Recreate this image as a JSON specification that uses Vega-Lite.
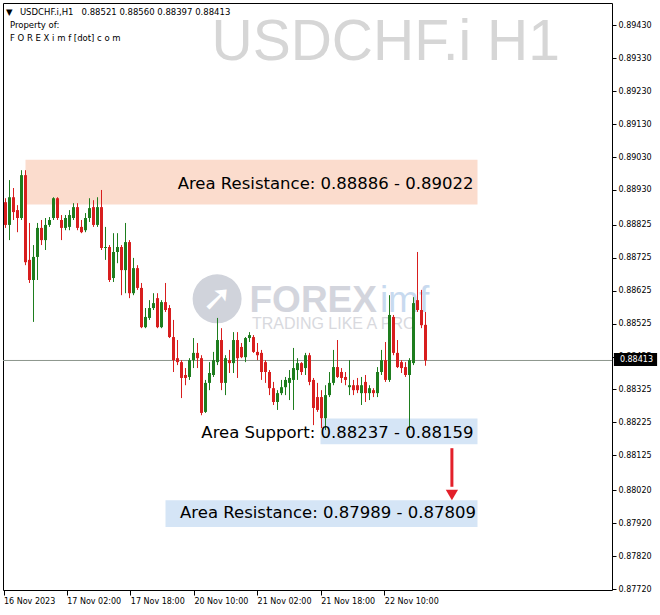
{
"$schema": "https://vega.github.io/schema/vega-lite/v6.json",
"width": 609,
"height": 587,
"autosize": {"type": "none"},
"padding": {"left": 3, "top": 3, "right": 48, "bottom": 25},
"background": "#ffffff",
"config": {"view": {"stroke": "#000000", "strokeWidth": 1}, "scale": {"continuousPadding": 0}},
"datasets": {
"bars": [
{"i":0,"o":0.88893,"h":0.88905,"l":0.88815,"c":0.88824},
{"i":1,"o":0.88824,"h":0.88960,"l":0.88778,"c":0.88908},
{"i":2,"o":0.88908,"h":0.88936,"l":0.88839,"c":0.88863},
{"i":3,"o":0.88869,"h":0.88884,"l":0.88802,"c":0.88845},
{"i":4,"o":0.88845,"h":0.88990,"l":0.88839,"c":0.88975},
{"i":5,"o":0.88975,"h":0.88990,"l":0.88702,"c":0.88711},
{"i":6,"o":0.88718,"h":0.88830,"l":0.88648,"c":0.88657},
{"i":7,"o":0.88657,"h":0.88763,"l":0.88530,"c":0.88727},
{"i":8,"o":0.88727,"h":0.88830,"l":0.88657,"c":0.88815},
{"i":9,"o":0.88815,"h":0.88839,"l":0.88763,"c":0.88778},
{"i":10,"o":0.88778,"h":0.88845,"l":0.88748,"c":0.88824},
{"i":11,"o":0.88824,"h":0.88848,"l":0.88818,"c":0.88839},
{"i":12,"o":0.88845,"h":0.88908,"l":0.88839,"c":0.88905},
{"i":13,"o":0.88905,"h":0.88908,"l":0.88839,"c":0.88845},
{"i":14,"o":0.88839,"h":0.88854,"l":0.88778,"c":0.88815},
{"i":15,"o":0.88815,"h":0.88854,"l":0.88808,"c":0.88845},
{"i":16,"o":0.88818,"h":0.88869,"l":0.88808,"c":0.88854},
{"i":17,"o":0.88845,"h":0.88890,"l":0.88839,"c":0.88878},
{"i":18,"o":0.88878,"h":0.88890,"l":0.88808,"c":0.88815},
{"i":19,"o":0.88818,"h":0.88839,"l":0.88799,"c":0.88802},
{"i":20,"o":0.88808,"h":0.88860,"l":0.88802,"c":0.88845},
{"i":21,"o":0.88845,"h":0.88905,"l":0.88833,"c":0.88875},
{"i":22,"o":0.88878,"h":0.88899,"l":0.88818,"c":0.88824},
{"i":23,"o":0.88824,"h":0.88908,"l":0.88818,"c":0.88878},
{"i":24,"o":0.88878,"h":0.88930,"l":0.88748,"c":0.88754},
{"i":25,"o":0.88754,"h":0.88818,"l":0.88718,"c":0.88757},
{"i":26,"o":0.88757,"h":0.88763,"l":0.88651,"c":0.88657},
{"i":27,"o":0.88663,"h":0.88799,"l":0.88651,"c":0.88742},
{"i":28,"o":0.88742,"h":0.88799,"l":0.88708,"c":0.88757},
{"i":29,"o":0.88757,"h":0.88763,"l":0.88611,"c":0.88687},
{"i":30,"o":0.88687,"h":0.88830,"l":0.88617,"c":0.88772},
{"i":31,"o":0.88772,"h":0.88778,"l":0.88602,"c":0.88617},
{"i":32,"o":0.88617,"h":0.88724,"l":0.88611,"c":0.88693},
{"i":33,"o":0.88693,"h":0.88702,"l":0.88627,"c":0.88633},
{"i":34,"o":0.88633,"h":0.88648,"l":0.88511,"c":0.88514},
{"i":35,"o":0.88514,"h":0.88572,"l":0.88511,"c":0.88545},
{"i":36,"o":0.88542,"h":0.88596,"l":0.88536,"c":0.88572},
{"i":37,"o":0.88572,"h":0.88617,"l":0.88566,"c":0.88587},
{"i":38,"o":0.88602,"h":0.88617,"l":0.88511,"c":0.88514},
{"i":39,"o":0.88514,"h":0.88596,"l":0.88511,"c":0.88590},
{"i":40,"o":0.88590,"h":0.88648,"l":0.88560,"c":0.88566},
{"i":41,"o":0.88572,"h":0.88581,"l":0.88481,"c":0.88484},
{"i":42,"o":0.88484,"h":0.88536,"l":0.88378,"c":0.88414},
{"i":43,"o":0.88420,"h":0.88475,"l":0.88399,"c":0.88408},
{"i":44,"o":0.88408,"h":0.88414,"l":0.88299,"c":0.88360},
{"i":45,"o":0.88369,"h":0.88390,"l":0.88338,"c":0.88360},
{"i":46,"o":0.88363,"h":0.88420,"l":0.88354,"c":0.88414},
{"i":47,"o":0.88414,"h":0.88481,"l":0.88390,"c":0.88436},
{"i":48,"o":0.88436,"h":0.88466,"l":0.88390,"c":0.88420},
{"i":49,"o":0.88420,"h":0.88429,"l":0.88247,"c":0.88254},
{"i":50,"o":0.88257,"h":0.88354,"l":0.88254,"c":0.88345},
{"i":51,"o":0.88345,"h":0.88408,"l":0.88323,"c":0.88375},
{"i":52,"o":0.88369,"h":0.88439,"l":0.88363,"c":0.88414},
{"i":53,"o":0.88408,"h":0.88542,"l":0.88399,"c":0.88475},
{"i":54,"o":0.88475,"h":0.88511,"l":0.88323,"c":0.88345},
{"i":55,"o":0.88345,"h":0.88429,"l":0.88308,"c":0.88420},
{"i":56,"o":0.88414,"h":0.88445,"l":0.88375,"c":0.88405},
{"i":57,"o":0.88405,"h":0.88499,"l":0.88375,"c":0.88475},
{"i":58,"o":0.88475,"h":0.88499,"l":0.88360,"c":0.88420},
{"i":59,"o":0.88454,"h":0.88466,"l":0.88420,"c":0.88423},
{"i":60,"o":0.88423,"h":0.88484,"l":0.88408,"c":0.88481},
{"i":61,"o":0.88481,"h":0.88499,"l":0.88469,"c":0.88490},
{"i":62,"o":0.88484,"h":0.88490,"l":0.88436,"c":0.88439},
{"i":63,"o":0.88439,"h":0.88466,"l":0.88414,"c":0.88429},
{"i":64,"o":0.88436,"h":0.88445,"l":0.88354,"c":0.88378},
{"i":65,"o":0.88408,"h":0.88414,"l":0.88345,"c":0.88378},
{"i":66,"o":0.88378,"h":0.88384,"l":0.88308,"c":0.88329},
{"i":67,"o":0.88329,"h":0.88348,"l":0.88278,"c":0.88287},
{"i":68,"o":0.88287,"h":0.88323,"l":0.88263,"c":0.88314},
{"i":69,"o":0.88314,"h":0.88354,"l":0.88308,"c":0.88332},
{"i":70,"o":0.88332,"h":0.88363,"l":0.88308,"c":0.88354},
{"i":71,"o":0.88345,"h":0.88384,"l":0.88293,"c":0.88360},
{"i":72,"o":0.88354,"h":0.88451,"l":0.88263,"c":0.88390},
{"i":73,"o":0.88384,"h":0.88420,"l":0.88354,"c":0.88405},
{"i":74,"o":0.88405,"h":0.88408,"l":0.88369,"c":0.88378},
{"i":75,"o":0.88390,"h":0.88436,"l":0.88369,"c":0.88429},
{"i":76,"o":0.88429,"h":0.88436,"l":0.88338,"c":0.88348},
{"i":77,"o":0.88354,"h":0.88360,"l":0.88217,"c":0.88269},
{"i":78,"o":0.88302,"h":0.88345,"l":0.88257,"c":0.88263},
{"i":79,"o":0.88302,"h":0.88323,"l":0.88208,"c":0.88238},
{"i":80,"o":0.88238,"h":0.88338,"l":0.88202,"c":0.88308},
{"i":81,"o":0.88308,"h":0.88378,"l":0.88302,"c":0.88345},
{"i":82,"o":0.88345,"h":0.88445,"l":0.88338,"c":0.88393},
{"i":83,"o":0.88393,"h":0.88475,"l":0.88360,"c":0.88363},
{"i":84,"o":0.88378,"h":0.88390,"l":0.88345,"c":0.88360},
{"i":85,"o":0.88363,"h":0.88378,"l":0.88338,"c":0.88354},
{"i":86,"o":0.88332,"h":0.88414,"l":0.88308,"c":0.88338},
{"i":87,"o":0.88338,"h":0.88354,"l":0.88308,"c":0.88323},
{"i":88,"o":0.88338,"h":0.88360,"l":0.88314,"c":0.88323},
{"i":89,"o":0.88314,"h":0.88363,"l":0.88278,"c":0.88338},
{"i":90,"o":0.88348,"h":0.88369,"l":0.88287,"c":0.88314},
{"i":91,"o":0.88314,"h":0.88338,"l":0.88293,"c":0.88329},
{"i":92,"o":0.88323,"h":0.88329,"l":0.88302,"c":0.88314},
{"i":93,"o":0.88314,"h":0.88393,"l":0.88302,"c":0.88378},
{"i":94,"o":0.88378,"h":0.88445,"l":0.88369,"c":0.88414},
{"i":95,"o":0.88414,"h":0.88469,"l":0.88348,"c":0.88354},
{"i":96,"o":0.88354,"h":0.88611,"l":0.88348,"c":0.88551},
{"i":97,"o":0.88545,"h":0.88551,"l":0.88429,"c":0.88436},
{"i":98,"o":0.88436,"h":0.88475,"l":0.88390,"c":0.88393},
{"i":99,"o":0.88408,"h":0.88414,"l":0.88375,"c":0.88390},
{"i":100,"o":0.88393,"h":0.88408,"l":0.88363,"c":0.88369},
{"i":101,"o":0.88369,"h":0.88420,"l":0.88202,"c":0.88414},
{"i":102,"o":0.88405,"h":0.88605,"l":0.88399,"c":0.88587},
{"i":103,"o":0.88596,"h":0.88742,"l":0.88560,"c":0.88566},
{"i":104,"o":0.88566,"h":0.88627,"l":0.88511,"c":0.88520},
{"i":105,"o":0.88521,"h":0.88560,"l":0.88397,"c":0.88413}
]
},
"layer": [
{
"data": {"values": [
{"zone": "resistance", "x1": 5, "x2": 118, "top": 0.89022, "bottom": 0.88886},
{"zone": "support", "x1": 78.75, "x2": 118, "top": 0.88237, "bottom": 0.88159},
{"zone": "target", "x1": 40, "x2": 118, "top": 0.87989, "bottom": 0.87908}
]},
"mark": {"type": "rect"},
"encoding": {
"x": {"field": "x1", "type": "quantitative", "scale": {"domain": [-0.625, 151.625], "nice": false, "zero": false, "padding": 0},
"axis": {"orient": "bottom", "title": null, "values": [-0.5, 15.3, 31.2, 47.1, 62.9, 78.8, 94.7], "tickCount": 40,
"labelExpr": "datum.value < 0 ? '16 Nov 2023' : datum.value < 20 ? '17 Nov 02:00' : datum.value < 40 ? '17 Nov 18:00' : datum.value < 55 ? '20 Nov 10:00' : datum.value < 70 ? '21 Nov 02:00' : datum.value < 85 ? '21 Nov 18:00' : '22 Nov 10:00'",
"domain": false, "grid": false, "ticks": true, "tickSize": 5, "tickColor": "#000000", "tickWidth": 1,
"labelAlign": "left", "labelBaseline": "top", "labelPadding": 2, "labelDx": 1, "labelFont": "DejaVu Sans", "labelFontSize": 8, "labelColor": "#000000",
"labelFlush": false, "labelOverlap": false, "labelBound": false}},
"x2": {"field": "x2"},
"y": {"field": "top", "type": "quantitative", "scale": {"domain": [0.87717, 0.89497], "nice": false, "zero": false, "padding": 0},
"axis": {"orient": "right", "title": null, "values": [0.8943, 0.8933, 0.8923, 0.8913, 0.8903, 0.8893, 0.88825, 0.88725, 0.88625, 0.88525, 0.88425, 0.88325, 0.88225, 0.88125, 0.8802, 0.8792, 0.8782, 0.8772], "tickCount": 40,
"format": ".5f", "domain": false, "grid": false, "ticks": true, "tickSize": 4, "tickColor": "#000000", "tickWidth": 1,
"labelFont": "DejaVu Sans", "labelFontSize": 8, "labelColor": "#000000", "labelPadding": 2, "labelOverlap": false, "labelFlush": false, "labelBound": false}},
"y2": {"field": "bottom"},
"color": {"field": "zone", "type": "nominal", "scale": {"domain": ["resistance", "support", "target"], "range": ["#fbdccd", "#d5e5f6", "#d5e5f6"]}, "legend": null}
}
},
{
"data": {"values": [{"x": 52.9, "y": 0.886}]},
"mark": {"type": "point", "shape": "circle", "filled": true, "size": 2400, "color": "#d0d3db", "opacity": 1},
"encoding": {
"x": {"field": "x", "type": "quantitative", "scale": {"domain": [-0.625, 151.625], "nice": false, "zero": false, "padding": 0}},
"y": {"field": "y", "type": "quantitative", "scale": {"domain": [0.87717, 0.89497], "nice": false, "zero": false, "padding": 0}}
}
},
{
"data": {"values": [{"x": 52.9, "y": 0.886, "t": "➚"}]},
"mark": {"type": "text", "font": "DejaVu Sans", "fontWeight": "bold", "fontSize": 36, "align": "center", "baseline": "middle", "color": "#ffffff"},
"encoding": {
"x": {"field": "x", "type": "quantitative", "scale": {"domain": [-0.625, 151.625], "nice": false, "zero": false, "padding": 0}},
"y": {"field": "y", "type": "quantitative", "scale": {"domain": [0.87717, 0.89497], "nice": false, "zero": false, "padding": 0}},
"text": {"field": "t"}
}
},
{
"data": {"values": [{"x": 61, "y": 0.8856, "t": "FOREX"}]},
"mark": {"type": "text", "font": "Liberation Sans", "fontWeight": "bold", "fontSize": 37, "align": "left", "baseline": "alphabetic", "color": "#d3d5dd"},
"encoding": {
"x": {"field": "x", "type": "quantitative", "scale": {"domain": [-0.625, 151.625], "nice": false, "zero": false, "padding": 0}},
"y": {"field": "y", "type": "quantitative", "scale": {"domain": [0.87717, 0.89497], "nice": false, "zero": false, "padding": 0}},
"text": {"field": "t"}
}
},
{
"data": {"values": [{"x": 93.6, "y": 0.8856, "t": "imf"}]},
"mark": {"type": "text", "font": "Liberation Sans", "fontSize": 37, "align": "left", "baseline": "alphabetic", "color": "#c8daef"},
"encoding": {
"x": {"field": "x", "type": "quantitative", "scale": {"domain": [-0.625, 151.625], "nice": false, "zero": false, "padding": 0}},
"y": {"field": "y", "type": "quantitative", "scale": {"domain": [0.87717, 0.89497], "nice": false, "zero": false, "padding": 0}},
"text": {"field": "t"}
}
},
{
"data": {"values": [{"x": 61.6, "y": 0.88523, "t": "TRADING LIKE A PRO"}]},
"mark": {"type": "text", "font": "Liberation Sans", "fontSize": 16, "align": "left", "baseline": "middle", "color": "#d8d9de"},
"encoding": {
"x": {"field": "x", "type": "quantitative", "scale": {"domain": [-0.625, 151.625], "nice": false, "zero": false, "padding": 0}},
"y": {"field": "y", "type": "quantitative", "scale": {"domain": [0.87717, 0.89497], "nice": false, "zero": false, "padding": 0}},
"text": {"field": "t"}
}
},
{
"data": {"values": [{"x": 138.6, "y": 0.89324, "t": "USDCHF.i H1"}]},
"mark": {"type": "text", "font": "Liberation Sans", "fontSize": 57, "align": "right", "baseline": "alphabetic", "color": "#d6d6d6"},
"encoding": {
"x": {"field": "x", "type": "quantitative", "scale": {"domain": [-0.625, 151.625], "nice": false, "zero": false, "padding": 0}},
"y": {"field": "y", "type": "quantitative", "scale": {"domain": [0.87717, 0.89497], "nice": false, "zero": false, "padding": 0}},
"text": {"field": "t"}
}
},
{
"data": {"values": [{"p": 0.88413}]},
"mark": {"type": "rule", "color": "#8c968c", "strokeWidth": 1},
"encoding": {
"y": {"field": "p", "type": "quantitative", "scale": {"domain": [0.87717, 0.89497], "nice": false, "zero": false, "padding": 0}}
}
},
{
"data": {"name": "bars"},
"mark": {"type": "rule", "strokeWidth": 1},
"encoding": {
"x": {"field": "i", "type": "quantitative", "scale": {"domain": [-0.625, 151.625], "nice": false, "zero": false, "padding": 0}},
"y": {"field": "l", "type": "quantitative", "scale": {"domain": [0.87717, 0.89497], "nice": false, "zero": false, "padding": 0}},
"y2": {"field": "h"},
"color": {"condition": {"test": "datum.c >= datum.o", "value": "#1e7d1e"}, "value": "#d81e1e"}
}
},
{
"data": {"name": "bars"},
"mark": {"type": "bar", "width": 3},
"encoding": {
"x": {"field": "i", "type": "quantitative", "scale": {"domain": [-0.625, 151.625], "nice": false, "zero": false, "padding": 0}},
"y": {"field": "o", "type": "quantitative", "scale": {"domain": [0.87717, 0.89497], "nice": false, "zero": false, "padding": 0}},
"y2": {"field": "c"},
"color": {"condition": {"test": "datum.c >= datum.o", "value": "#1e7d1e"}, "value": "#d81e1e"}
}
},
{
"data": {"values": [
{"x": 117, "y": 0.88948, "t": "Area Resistance: 0.88886 - 0.89022"},
{"x": 117, "y": 0.88193, "t": "Area Support: 0.88237 - 0.88159"},
{"x": 117.6, "y": 0.8795, "t": "Area Resistance: 0.87989 - 0.87809"}
]},
"mark": {"type": "text", "font": "DejaVu Sans", "fontSize": 16.5, "align": "right", "baseline": "middle", "color": "#000000"},
"encoding": {
"x": {"field": "x", "type": "quantitative", "scale": {"domain": [-0.625, 151.625], "nice": false, "zero": false, "padding": 0}},
"y": {"field": "y", "type": "quantitative", "scale": {"domain": [0.87717, 0.89497], "nice": false, "zero": false, "padding": 0}},
"text": {"field": "t"}
}
},
{
"data": {"values": [{"x": 111.6, "y1": 0.88147, "y2": 0.8803}]},
"mark": {"type": "rule", "color": "#e3202a", "strokeWidth": 3},
"encoding": {
"x": {"field": "x", "type": "quantitative", "scale": {"domain": [-0.625, 151.625], "nice": false, "zero": false, "padding": 0}},
"y": {"field": "y1", "type": "quantitative", "scale": {"domain": [0.87717, 0.89497], "nice": false, "zero": false, "padding": 0}},
"y2": {"field": "y2"}
}
},
{
"data": {"values": [{"x": 111.6, "y": 0.88005}]},
"mark": {"type": "point", "shape": "triangle-down", "filled": true, "size": 150, "color": "#e3202a", "opacity": 1},
"encoding": {
"x": {"field": "x", "type": "quantitative", "scale": {"domain": [-0.625, 151.625], "nice": false, "zero": false, "padding": 0}},
"y": {"field": "y", "type": "quantitative", "scale": {"domain": [0.87717, 0.89497], "nice": false, "zero": false, "padding": 0}}
}
},
{
"data": {"values": [
{"x": 0.1, "y": 0.89469, "t": "▼"},
{"x": 3.6, "y": 0.89469, "t": "USDCHF.i,H1\u00a0\u00a0\u00a00.88521 0.88560 0.88397 0.88413"},
{"x": 1.1, "y": 0.8943, "t": "Property of:"},
{"x": 1.1, "y": 0.89391, "t": "F O R E X i m f [dot] c o m"}
]},
"mark": {"type": "text", "font": "DejaVu Sans", "fontSize": 8.5, "align": "left", "baseline": "middle", "color": "#000000"},
"encoding": {
"x": {"field": "x", "type": "quantitative", "scale": {"domain": [-0.625, 151.625], "nice": false, "zero": false, "padding": 0}},
"y": {"field": "y", "type": "quantitative", "scale": {"domain": [0.87717, 0.89497], "nice": false, "zero": false, "padding": 0}},
"text": {"field": "t"}
}
},
{
"data": {"values": [{"x1": 152.1, "x2": 162.9, "top": 0.88436, "bottom": 0.88396}]},
"mark": {"type": "rect", "color": "#000000"},
"encoding": {
"x": {"field": "x1", "type": "quantitative", "scale": {"domain": [-0.625, 151.625], "nice": false, "zero": false, "padding": 0}},
"x2": {"field": "x2"},
"y": {"field": "top", "type": "quantitative", "scale": {"domain": [0.87717, 0.89497], "nice": false, "zero": false, "padding": 0}},
"y2": {"field": "bottom"}
}
},
{
"data": {"values": [{"x": 153.6, "y": 0.88413, "t": "0.88413"}]},
"mark": {"type": "text", "font": "DejaVu Sans", "fontSize": 8, "align": "left", "baseline": "middle", "color": "#ffffff"},
"encoding": {
"x": {"field": "x", "type": "quantitative", "scale": {"domain": [-0.625, 151.625], "nice": false, "zero": false, "padding": 0}},
"y": {"field": "y", "type": "quantitative", "scale": {"domain": [0.87717, 0.89497], "nice": false, "zero": false, "padding": 0}},
"text": {"field": "t"}
}
}
]
}
